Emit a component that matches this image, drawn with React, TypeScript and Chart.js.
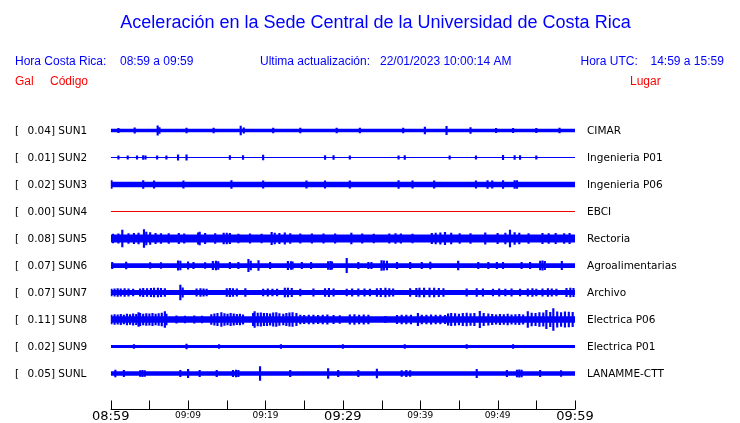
import React, { useEffect, useRef } from "react";
import { Chart, registerables } from "chart.js";

Chart.register(...registerables);

const TITLE = "Aceleración en la Sede Central de la Universidad de Costa Rica";
const STATIONS = ["SUN1", "SUN2", "SUN3", "SUN4", "SUN5", "SUN6", "SUN7", "SUN8", "SUN9", "SUNL"];
const PLACES = ["CIMAR", "Ingenieria P01", "Ingenieria P06", "EBCI", "Rectoria", "Agroalimentarias", "Archivo", "Electrica P06", "Electrica P01", "LANAMME-CTT"];
const PEAK_GAL = [0.04, 0.01, 0.02, 0.0, 0.08, 0.07, 0.07, 0.11, 0.02, 0.05];
// steady noise half-amplitude of each trace, in mGal (0 = flat line)
const CORE_MGAL = [17, 0, 26, 0, 36, 22, 24, 30, 15, 21];

// [minute after 08:59, half-amplitude in mGal]
const SUN1_SPIKES = [[1.0, 20], [3.1, 24], [6.07, 44], [6.3, 26], [9.8, 22], [13.3, 22], [16.8, 40], [17.2, 24], [21, 22], [24.5, 22], [29.2, 22], [32.2, 22], [37.8, 22], [40.6, 32], [43.4, 38], [46.5, 28], [49.8, 20], [52, 20], [55, 20], [58, 22]];
const SUN2_SPIKES = [[1.0, 16], [2.2, 16], [3.4, 16], [4.2, 18], [4.5, 16], [6.0, 16], [7.2, 16], [8.7, 24], [9.8, 24], [15.4, 18], [17.1, 18], [19.7, 22], [27.7, 18], [28.8, 18], [30.9, 16], [37.2, 16], [38.0, 18], [43.8, 16], [47.2, 16], [50.7, 20], [52.2, 18], [52.9, 18], [55, 16]];
const SUN3_SPIKES = [[0.1, 37], [4.2, 37], [5.6, 35], [9.4, 34], [15.6, 37], [19.7, 35], [25.3, 35], [27.7, 34], [30.9, 35], [37.2, 37], [39.0, 35], [41.8, 33], [47.2, 34], [48.7, 36], [49.3, 34], [50.7, 36], [52.2, 37], [52.5, 37]];
const SUN4_SPIKES: number[][] = [];
const SUN5_SPIKES = [[0.3, 42], [1.0, 44], [1.5, 78], [2.3, 45], [3.0, 48], [3.6, 50], [4.3, 82], [4.6, 60], [5.1, 55], [5.8, 48], [6.5, 45], [7.5, 46], [8.8, 48], [9.5, 44], [11.3, 52], [11.5, 60], [12.2, 48], [13.5, 46], [14.6, 50], [15.0, 50], [15.4, 48], [16.5, 42], [18.0, 44], [19.5, 42], [20.8, 58], [21.2, 50], [21.8, 48], [22.5, 52], [23.2, 46], [24.5, 44], [26.0, 44], [27.5, 44], [29.0, 44], [31.1, 50], [32.5, 44], [34.0, 40], [36.0, 44], [36.8, 46], [37.5, 44], [39.0, 42], [41.5, 48], [42.0, 50], [42.6, 52], [43.2, 56], [44.0, 50], [45.1, 46], [46.5, 46], [48.4, 52], [50.0, 48], [51.0, 50], [51.6, 78], [52.2, 54], [52.8, 50], [54.0, 46], [55.8, 48], [56.6, 46], [57.5, 48], [58.6, 46], [59.3, 48]];
const SUN6_SPIKES = [[0.2, 30], [2.0, 32], [5.1, 28], [6.5, 28], [8.7, 44], [9.0, 40], [10.0, 34], [10.7, 30], [12.2, 28], [13.2, 38], [13.6, 40], [13.9, 36], [15.4, 30], [16.5, 30], [17.8, 56], [18.1, 42], [19.1, 46], [20.6, 30], [22.9, 38], [23.3, 36], [23.5, 34], [24.7, 30], [25.9, 30], [28.1, 36], [28.4, 38], [28.6, 34], [30.5, 66], [32, 30], [33.3, 30], [33.7, 30], [35.0, 46], [35.3, 44], [35.7, 40], [37, 30], [38.7, 30], [40.2, 30], [41.3, 32], [44.9, 42], [47.5, 30], [48.8, 30], [49.9, 30], [50.7, 30], [53.1, 30], [54.2, 30], [55.5, 40], [55.8, 44], [56.1, 38], [58.3, 38]];
const SUN7_SPIKES = [[0.1, 32], [0.5, 34], [0.9, 36], [1.3, 34], [1.8, 36], [2.3, 34], [2.9, 32], [3.8, 34], [4.2, 38], [4.7, 36], [5.2, 38], [5.6, 40], [6.1, 42], [6.5, 38], [7.0, 36], [9.0, 68], [9.3, 44], [11.1, 34], [11.6, 36], [12.0, 34], [12.4, 32], [15.0, 36], [15.4, 38], [15.8, 36], [16.3, 34], [17.4, 36], [19.7, 32], [20.3, 34], [20.9, 32], [21.5, 32], [22.5, 40], [22.9, 42], [23.4, 38], [24.5, 32], [26.2, 34], [27.7, 36], [28.2, 38], [28.8, 34], [30.5, 32], [31.2, 34], [32.0, 34], [32.8, 34], [33.5, 32], [34.4, 36], [34.9, 38], [35.5, 40], [36.0, 36], [36.5, 34], [38.7, 36], [39.5, 38], [39.9, 40], [40.5, 42], [41.2, 40], [41.8, 42], [42.4, 38], [43.0, 36], [46.0, 34], [47.3, 36], [48.1, 34], [49.4, 32], [50.2, 34], [51.0, 32], [51.8, 34], [52.9, 32], [53.9, 34], [54.5, 36], [55.0, 32], [55.8, 34], [56.5, 36], [57.0, 34], [57.6, 32], [58.9, 38], [59.4, 40], [59.8, 38]];
const SUN8_SPIKES = [[0.1, 40], [0.5, 46], [0.9, 44], [1.3, 48], [1.7, 42], [2.1, 50], [2.5, 46], [2.9, 52], [3.3, 48], [3.6, 64], [3.8, 56], [4.2, 50], [4.6, 54], [5.0, 52], [5.4, 58], [5.8, 50], [6.2, 54], [6.6, 60], [7.0, 74], [7.2, 50], [8.5, 34], [9.6, 32], [10.8, 34], [11.8, 32], [13.0, 46], [13.4, 52], [13.8, 56], [14.3, 65], [14.7, 54], [15.1, 50], [15.5, 56], [15.9, 52], [16.3, 48], [16.7, 50], [17.1, 44], [18.4, 56], [18.6, 74], [19.0, 60], [19.4, 62], [19.8, 56], [20.2, 58], [20.6, 52], [21.0, 62], [21.4, 65], [21.8, 54], [22.3, 50], [22.7, 56], [23.1, 62], [23.5, 65], [24.0, 56], [24.5, 42], [25.0, 38], [25.6, 40], [26.2, 42], [26.8, 38], [27.4, 40], [28.0, 44], [28.8, 38], [29.6, 36], [30.9, 44], [31.5, 46], [32.1, 42], [32.7, 44], [33.3, 40], [35.5, 30], [37.0, 38], [37.6, 40], [38.2, 42], [38.8, 40], [39.7, 56], [40.2, 42], [40.8, 40], [41.4, 44], [42.0, 40], [42.6, 42], [43.2, 38], [43.6, 52], [44.0, 58], [44.5, 54], [45.0, 50], [45.5, 56], [46.0, 60], [46.5, 54], [47.0, 58], [47.7, 76], [48.2, 56], [48.8, 52], [49.3, 48], [49.8, 44], [50.3, 48], [50.8, 46], [51.3, 50], [51.8, 44], [52.3, 46], [52.8, 48], [53.3, 44], [53.9, 74], [54.4, 60], [54.9, 56], [55.4, 64], [55.9, 62], [56.3, 84], [56.8, 66], [57.2, 102], [57.7, 70], [58.2, 64], [58.7, 72], [59.2, 68], [59.7, 66]];
const SUN9_SPIKES = [[3.0, 18], [9.8, 22], [14, 18], [22, 18], [30, 18], [38, 18], [46, 18], [52, 18]];
const SUNL_SPIKES = [[0.6, 32], [1.7, 30], [3.8, 28], [4.1, 30], [4.4, 28], [9.0, 30], [10.0, 38], [11.5, 30], [13.7, 30], [15.8, 30], [16.2, 32], [16.5, 30], [19.3, 65], [23.2, 30], [28.1, 46], [29.4, 30], [32, 30], [34.4, 42], [37.6, 28], [38.2, 30], [38.7, 28], [47.3, 38], [51.2, 30], [52.5, 32], [52.8, 34], [53.1, 32], [55.5, 30], [58.2, 28]];
const SPIKES = [SUN1_SPIKES, SUN2_SPIKES, SUN3_SPIKES, SUN4_SPIKES, SUN5_SPIKES, SUN6_SPIKES, SUN7_SPIKES, SUN8_SPIKES, SUN9_SPIKES, SUNL_SPIKES];

const TICK_MINUTES = [0, 5, 10, 15, 20, 25, 30, 35, 40, 45, 50, 55, 60];
const TICK_LABELS = ["08:59", "", "09:09", "", "09:19", "", "09:29", "", "09:39", "", "09:49", "", "09:59"];
const MAJOR_LABELS = ["08:59", "09:29", "09:59"];

const ROW_GAP_GAL = 0.25;
const BLUE = "#0000ff";
const RED = "#ee0000";

export default function App() {
  const ref = useRef<HTMLCanvasElement | null>(null);

  useEffect(() => {
    const canvas = ref.current;
    if (!canvas) return;
    const datasets: any[] = [];
    STATIONS.forEach((_, i) => {
      const c = i * ROW_GAP_GAL;
      const core = CORE_MGAL[i] / 1000;
      const color = PEAK_GAL[i] === 0 ? RED : BLUE;
      if (core === 0) {
        datasets.push({
          type: "line",
          data: [{ x: 0, y: c }, { x: 60, y: c }],
          borderColor: color,
          borderWidth: 1,
          pointRadius: 0,
          fill: false,
        });
      } else {
        datasets.push({
          type: "line",
          data: [{ x: 0, y: c - core }, { x: 60, y: c - core }],
          borderColor: color,
          borderWidth: 0,
          pointRadius: 0,
          fill: false,
        });
        datasets.push({
          type: "line",
          data: [{ x: 0, y: c + core }, { x: 60, y: c + core }],
          borderColor: color,
          backgroundColor: color,
          borderWidth: 0,
          pointRadius: 0,
          fill: "-1",
        });
      }
      if (SPIKES[i].length) {
        datasets.push({
          type: "bar",
          data: SPIKES[i].map(([m, a]) => ({ x: m, y: [c - a / 1000, c + a / 1000] })),
          backgroundColor: color,
          borderWidth: 0,
          barThickness: 1.5,
          grouped: false,
        });
      }
    });

    const textPlugin = {
      id: "seismoText",
      afterDraw(chart: any) {
        const ctx = chart.ctx as CanvasRenderingContext2D;
        const xs = chart.scales.x;
        const ys = chart.scales.y;
        ctx.save();
        ctx.textBaseline = "middle";
        // title
        ctx.fillStyle = BLUE;
        ctx.font = '18px "Liberation Sans"';
        ctx.textAlign = "center";
        ctx.fillText(TITLE, 375.5, 23);
        // header
        ctx.textAlign = "left";
        ctx.font = '12px "Liberation Sans"';
        ctx.fillText("Hora Costa Rica:", 15, 61.5);
        ctx.fillText("08:59 a 09:59", 120, 61.5);
        ctx.fillText("Ultima actualización:", 260, 61.5);
        ctx.fillText("22/01/2023 10:00:14 AM", 380, 61.5);
        ctx.fillText("Hora UTC:", 580.5, 61.5);
        ctx.fillText("14:59 a 15:59", 650.5, 61.5);
        ctx.fillStyle = "#ff0000";
        ctx.fillText("Gal", 15, 82);
        ctx.fillText("Código", 50, 82);
        ctx.fillText("Lugar", 630, 82);
        // station labels
        ctx.fillStyle = "#000";
        ctx.font = '10.5px "DejaVu Sans"';
        STATIONS.forEach((s, i) => {
          const y = ys.getPixelForValue(i * ROW_GAP_GAL) + 0.5;
          ctx.fillText("[", 15, y);
          ctx.fillText(PEAK_GAL[i].toFixed(2) + "] " + s, 27.5, y);
          ctx.fillText(PLACES[i], 587, y);
        });
        // time axis
        const yAxis = Math.floor(chart.chartArea.bottom) + 0.5;
        ctx.strokeStyle = "#000";
        ctx.lineWidth = 1;
        ctx.beginPath();
        ctx.moveTo(xs.getPixelForValue(0), yAxis);
        ctx.lineTo(xs.getPixelForValue(60), yAxis);
        TICK_MINUTES.forEach((m) => {
          const x = Math.round(xs.getPixelForValue(m)) + 0.5;
          ctx.moveTo(x, yAxis);
          ctx.lineTo(x, yAxis - 9);
        });
        ctx.stroke();
        ctx.textAlign = "center";
        TICK_MINUTES.forEach((m, k) => {
          const lab = TICK_LABELS[k];
          if (!lab) return;
          const x = xs.getPixelForValue(m);
          if (MAJOR_LABELS.includes(lab)) {
            ctx.font = '13px "DejaVu Sans"';
            ctx.fillText(lab, x, yAxis + 7.5);
          } else {
            ctx.font = '9px "DejaVu Sans"';
            ctx.fillText(lab, x, yAxis + 6);
          }
        });
        ctx.restore();
      },
    };

    const chart = new Chart(canvas, {
      type: "bar",
      data: { datasets },
      options: {
        animation: false,
        responsive: false,
        events: [],
        layout: { padding: { left: 110.7, right: 165, top: 117, bottom: 13.5 } },
        plugins: { legend: { display: false }, tooltip: { enabled: false }, title: { display: false } },
        scales: {
          x: { type: "linear", min: 0, max: 60, offset: false, display: false },
          y: { type: "linear", min: -0.5 * ROW_GAP_GAL, max: 2.5833, reverse: true, display: false },
        },
      } as any,
      plugins: [textPlugin],
    });
    return () => chart.destroy();
  }, []);

  return (
    <div style={{ position: "absolute", left: 0, top: 0, width: 740, height: 423, background: "#fff" }}>
      <canvas ref={ref} width={740} height={423} style={{ display: "block" }} />
    </div>
  );
}
